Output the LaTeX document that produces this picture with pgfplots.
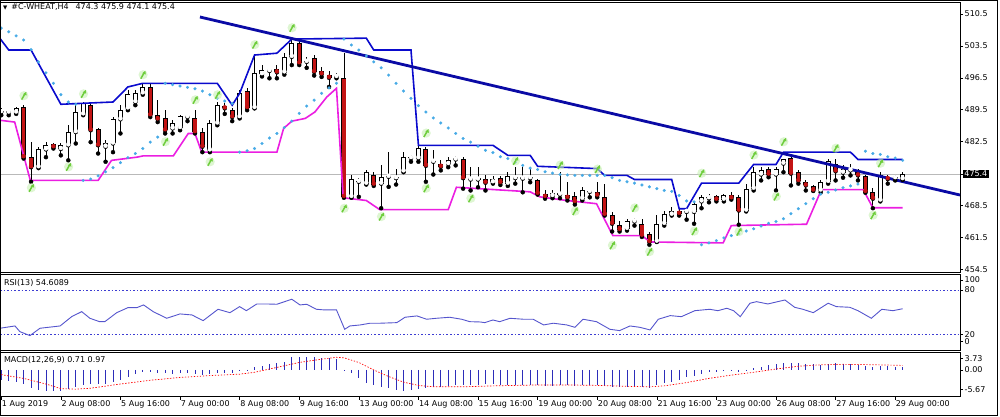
\documentclass[border=0pt]{standalone}
\usepackage{pgfplots}
\pgfplotsset{compat=1.18}
\usepackage{pgfplotstable}
\usepackage{fontspec}
\setmainfont{DejaVu Sans}

\definecolor{chanup}{RGB}{10,10,205}
\definecolor{chanlo}{RGB}{235,30,225}
\definecolor{trend}{RGB}{10,10,165}
\definecolor{sar}{RGB}{70,170,230}
\definecolor{fract}{RGB}{110,205,60}
\definecolor{fractglow}{RGB}{200,240,180}
\definecolor{bear}{RGB}{195,20,20}
\definecolor{rsic}{RGB}{85,85,205}
\definecolor{lvl}{RGB}{60,60,210}
\definecolor{histc}{RGB}{45,45,185}

\pgfdeclareplotmark{fractal}{%
  \pgfsetlinewidth{1.5pt}%
  \pgfpathmoveto{\pgfqpoint{-2.0pt}{-3.6pt}}%
  \pgfpathlineto{\pgfqpoint{1.5pt}{2.6pt}}%
  \pgfusepathqstroke
  \pgfpathmoveto{\pgfqpoint{2.6pt}{4.4pt}}%
  \pgfpathlineto{\pgfqpoint{-0.5pt}{1.8pt}}%
  \pgfpathlineto{\pgfqpoint{3.0pt}{0.6pt}}%
  \pgfpathclose
  \pgfusepathqfill
}
\pgfdeclareplotmark{fractalglow}{%
  \pgfpathcircle{\pgfqpoint{0.3pt}{0.4pt}}{4.6pt}%
  \pgfusepathqfill
}

\pgfplotstableread{
i o h l c
0 489.0 489.8 488.3 489.1
1 488.9 489.4 488.3 488.95
2 488.9 490.1 488.6 489.8
5 476.9 481.3 476.7 481.0
6 480.8 482.4 479.1 481.7
8 480.9 482.3 479.5 481.8
9 481.7 486.1 478.4 484.6
10 484.6 490.5 482.1 488.9
11 488.5 491.1 488.3 490.9
14 481.4 482.8 478.1 482.1
15 482.1 488.0 480.2 487.4
16 487.4 490.5 484.3 489.4
17 489.8 493.8 489.4 492.9
18 491.2 493.8 490.5 493.2
19 493.1 495.3 492.8 494.5
23 485.4 487.2 484.3 486.5
24 485.5 488.3 485.0 488.1
25 487.9 488.1 487.0 487.9
28 480.6 487.2 480.2 486.5
29 486.5 491.2 486.1 490.5
32 487.9 493.8 487.6 493.1
34 489.9 501.5 489.8 497.5
35 497.3 499.4 496.8 498.2
36 498.0 498.2 496.4 498.0
38 497.7 502.0 497.2 501.1
39 501.1 505.0 499.3 504.1
41 500.0 501.1 498.7 500.0
45 496.7 497.5 496.4 496.7
47 470.4 475.1 470.2 474.4
48 473.7 474.6 470.4 473.7
49 473.3 476.2 473.1 475.9
51 473.3 477.3 467.9 474.8
52 474.8 480.3 472.6 474.8
53 474.5 476.6 473.1 474.5
54 476.0 480.2 475.8 479.2
55 478.9 479.5 478.1 478.9
56 478.9 481.7 478.1 481.1
58 478.1 480.6 475.3 478.1
60 477.6 479.2 476.9 478.4
61 478.6 479.4 477.3 478.6
63 474.2 477.0 471.8 474.2
64 474.2 477.0 472.5 474.2
66 473.6 474.9 473.3 474.4
68 473.3 475.8 472.8 474.9
69 474.5 477.0 473.3 474.5
70 474.4 477.0 471.4 474.4
71 474.5 477.0 473.6 474.5
74 470.6 471.8 470.1 471.3
75 470.9 475.8 470.1 470.9
78 470.0 472.5 469.6 471.8
79 471.5 471.6 470.3 471.5
84 463.4 465.6 463.0 465.0
85 465.0 465.7 464.1 465.0
88 460.6 466.5 460.5 464.5
89 464.5 467.4 464.1 466.7
90 466.5 468.1 466.3 467.4
92 467.1 467.8 465.4 467.1
93 467.1 469.2 464.5 468.9
94 469.4 470.7 467.9 470.3
95 470.1 471.1 469.2 470.1
97 469.8 471.0 469.4 470.7
100 467.4 473.3 467.2 472.2
101 472.2 477.0 471.8 475.9
102 475.3 477.0 474.0 476.2
104 475.3 477.0 471.8 476.4
105 477.7 478.8 475.8 478.6
110 471.8 474.0 471.4 473.7
111 473.7 478.8 473.3 478.2
113 475.7 477.3 474.6 476.6
114 476.2 477.5 475.1 476.2
118 469.6 475.8 469.4 475.1
120 474.5 475.1 474.0 474.5
121 474.3 475.9 474.1 475.4
}\bull

\pgfplotstableread{
i o h l c
3 490.1 490.6 478.8 479.1
4 479.1 482.4 473.7 476.9
7 481.9 482.2 481.0 481.3
12 490.5 490.7 482.4 485.0
13 485.2 485.4 479.9 481.7
20 494.5 495.3 487.9 488.3
21 488.3 491.6 486.8 487.4
22 487.6 489.4 484.3 485.0
26 487.7 489.4 484.3 484.6
27 484.6 485.4 480.2 481.4
30 490.4 490.9 488.6 489.8
31 489.5 489.8 487.0 487.9
33 493.6 494.2 489.4 489.9
37 498.4 499.3 496.4 497.7
40 504.1 504.6 499.3 499.7
42 500.9 501.6 497.0 497.8
43 498.0 498.9 496.7 497.3
44 497.2 498.0 494.5 496.5
46 496.5 501.9 470.2 470.4
50 475.3 475.9 472.8 473.1
57 481.0 481.3 473.7 477.2
59 477.7 478.4 476.2 477.0
62 478.6 479.2 472.2 474.5
65 474.4 475.1 471.8 473.5
67 474.5 475.0 473.0 473.5
72 474.0 474.4 470.9 471.1
73 471.1 471.8 470.0 470.4
76 470.9 473.6 469.6 470.2
77 470.5 471.4 468.7 469.3
80 471.5 473.6 470.3 470.7
81 470.4 473.3 466.3 466.5
82 466.5 467.1 462.8 464.5
83 464.3 465.2 462.8 463.2
86 464.5 465.6 461.6 461.9
87 462.3 462.7 459.9 460.5
91 467.2 467.8 466.3 466.7
96 470.5 470.9 469.4 469.8
98 470.9 471.4 469.8 470.1
99 470.4 470.7 464.3 467.4
103 476.5 477.0 474.7 475.3
106 478.9 479.2 472.9 475.5
107 475.9 476.2 473.3 473.9
108 473.7 474.0 471.8 472.9
109 472.8 473.1 471.7 471.8
112 477.5 478.7 474.0 476.0
115 475.9 476.6 474.0 475.1
116 474.9 475.3 471.3 471.5
117 471.5 472.3 467.9 470.0
119 474.8 475.3 473.3 474.3
}\bear

\pgfplotstableread{
i v
0 507.4
1 506.6
2 505.7
3 504.8
4 502.7
5 500.0
6 497.6
7 495.3
8 492.8
9 491.2
10 490.7
11 474.0
12 474.3
13 475.0
14 475.9
15 476.8
16 477.9
17 479.0
18 479.9
19 481.0
20 482.4
21 483.5
22 495.3
23 495.0
24 494.7
25 494.4
26 494.1
27 493.6
28 492.8
29 492.0
30 491.4
31 490.9
32 480.2
33 480.5
34 481.0
35 482.1
36 483.3
37 484.3
38 485.6
39 487.0
40 488.7
41 490.3
42 491.6
43 493.1
44 494.3
45 495.3
46 505.0
47 503.7
48 502.6
49 501.3
50 500.0
51 498.7
52 497.1
53 495.3
54 493.6
55 492.0
56 490.4
57 489.0
58 487.7
59 486.6
60 485.5
61 484.3
62 483.2
63 482.4
64 481.5
65 480.6
66 480.1
67 479.2
68 478.8
69 478.0
70 477.3
71 476.7
72 476.4
73 475.9
74 475.6
75 475.3
76 475.2
77 475.1
78 475.1
79 475.1
80 475.1
81 475.1
82 474.6
83 474.0
84 473.7
85 473.4
86 473.0
87 472.6
88 472.2
89 471.8
90 471.6
91 470.7
92 469.5
93 469.3
94 459.9
95 460.3
96 460.8
97 461.4
98 461.9
99 462.3
100 462.9
101 463.4
102 464.0
103 464.6
104 465.0
105 465.6
106 466.7
107 467.8
108 468.9
109 470.0
110 471.0
111 471.4
112 471.9
113 472.4
114 472.8
115 473.2
116 480.4
117 479.9
118 479.7
119 479.2
120 478.9
121 478.4
}\sartab

\pgfplotstableread{
i m
0 -2.1
1 -2.3
2 -2.6
3 -3.1
4 -3.8
5 -4.3
6 -4.6
7 -4.6
8 -4.4
9 -4.1
10 -3.6
11 -3.2
12 -3.1
13 -3.1
14 -3.0
15 -2.6
16 -2.1
17 -1.4
18 -0.85
19 -0.35
20 -0.35
21 -0.6
22 -0.7
23 -0.85
24 -0.7
25 -0.7
26 -0.85
27 -1.1
28 -0.9
29 -0.6
30 -0.6
31 -0.6
32 -0.15
33 0.05
34 0.6
35 0.85
36 1.2
37 1.4
38 1.8
39 2.7
40 2.85
41 2.7
42 2.7
43 2.6
44 2.5
45 2.3
46 -0.2
47 -0.7
48 -1.8
49 -2.8
50 -3.2
51 -3.6
52 -3.9
53 -4.3
54 -4.4
55 -4.3
56 -4.1
57 -3.9
58 -3.7
59 -3.6
60 -3.4
61 -3.3
62 -3.2
63 -3.2
64 -3.2
65 -3.1
66 -3.1
67 -3.2
68 -3.2
69 -3.2
70 -3.2
71 -3.2
72 -3.3
73 -3.4
74 -3.4
75 -3.3
76 -3.3
77 -3.4
78 -3.3
79 -3.2
80 -3.2
81 -3.5
82 -3.6
83 -3.7
84 -3.6
85 -3.6
86 -3.7
87 -3.8
88 -3.3
89 -2.8
90 -2.5
91 -2.1
92 -1.6
93 -1.2
94 -0.8
95 -0.5
96 -0.35
97 -0.25
98 -0.2
99 -0.4
100 0.05
101 0.4
102 0.7
103 1.0
104 1.3
105 1.5
106 1.5
107 1.4
108 1.3
109 1.2
110 1.1
111 1.3
112 1.4
113 1.3
114 1.2
115 1.1
116 0.9
117 0.7
118 0.75
119 0.75
120 0.7
121 0.71
}\macdtab

\pgfplotsset{every axis/.append style={
  tick label style={font=\fontsize{8}{9.6}\selectfont},
  scale only axis, width=960pt,
  xmin=-0.17, xmax=128.7,
  axis line style={black, line width=0.8pt},
  tick style={black, line width=0.6pt},
  tick align=outside, major tick length=3pt,
  ytick pos=right, yticklabel pos=right,
  yticklabel style={inner sep=1.5pt},
}}

\begin{document}
\begin{tikzpicture}[font=\fontsize{8}{9.6}\selectfont]
\useasboundingbox (0,0) rectangle (1000pt,417pt);

% ---------------- main price panel ----------------
\begin{axis}[
  at={(0pt,415pt)}, anchor=north west, height=270pt,
  ymin=453.92, ymax=513.13,
  xtick=\empty,
  ytick={454.5,461.5,468.5,482.5,489.5,496.5,503.5,510.5},
  yticklabels={454.5,461.5,468.5,482.5,489.5,496.5,503.5,510.5},
  extra y ticks={475.4}, extra y tick labels={475.4},
  extra y tick style={grid=major, major grid style={draw=gray!55, line width=0.5pt},
    yticklabel style={fill=black, text=white, inner sep=1.2pt}},
]
% wicks
\addplot[only marks, mark=none, black, error bars/.cd, y dir=plus, y explicit, error mark=none,
  error bar style={draw=black, line width=0.8pt}]
  table[x=i, y=l, y error expr=\thisrow{h}-\thisrow{l}] {\bull};
\addplot[only marks, mark=none, black, error bars/.cd, y dir=plus, y explicit, error mark=none,
  error bar style={draw=black, line width=0.8pt}]
  table[x=i, y=l, y error expr=\thisrow{h}-\thisrow{l}] {\bear};
% body outlines
\addplot[only marks, mark=none, black, error bars/.cd, y dir=plus, y explicit, error mark=none,
  error bar style={draw=black, line width=5pt}]
  table[x=i, y expr={min(\thisrow{o},\thisrow{c})}, y error expr={max(abs(\thisrow{c}-\thisrow{o}),0.25)}] {\bull};
\addplot[only marks, mark=none, black, error bars/.cd, y dir=plus, y explicit, error mark=none,
  error bar style={draw=black, line width=5pt}]
  table[x=i, y expr={min(\thisrow{o},\thisrow{c})}, y error expr={max(abs(\thisrow{c}-\thisrow{o}),0.25)}] {\bear};
% body fills
\addplot[only marks, mark=none, white, error bars/.cd, y dir=plus, y explicit, error mark=none,
  error bar style={draw=white, line width=3.2pt}]
  table[x=i, y expr={min(\thisrow{o},\thisrow{c})+0.22}, y error expr={max(abs(\thisrow{c}-\thisrow{o})-0.44,0)}] {\bull};
\addplot[only marks, mark=none, bear, error bars/.cd, y dir=plus, y explicit, error mark=none,
  error bar style={draw=bear, line width=3.2pt}]
  table[x=i, y expr={min(\thisrow{o},\thisrow{c})+0.22}, y error expr={max(abs(\thisrow{c}-\thisrow{o})-0.44,0)}] {\bear};

% price channel
\addplot[chanup, line width=1.6pt] coordinates {
(-0.2,505.2) (1,502.6) (4,502.6) (8,490.7) (15,491.2) (17,494.5) (19,495.3) (29,495.3)
(31,490.5) (32,493.1) (34,501.5) (37,501.9) (39,505.0) (49,505.2) (50,502.6) (55,502.6)
(56,481.7) (66,481.7) (68,479.5) (71,479.5) (72,477.1) (80,476.6) (81,475.1) (84,475.1)
(85,474.2) (90,474.2) (91,467.8) (92,467.8) (94,473.4) (99,473.4) (101,477.5) (104,477.5)
(105,480.2) (114,480.2) (115,478.6) (121,478.6)};
\addplot[chanlo, line width=1.6pt] coordinates {
(-0.2,487.2) (1.8,486.8) (3.9,474.0) (13,474.0) (14.8,478.4) (18.2,479.1) (19.1,479.4)
(23.1,479.4) (25.1,484.3) (26,484.3) (26.9,480.2) (37,480.2) (37.9,485.4) (39,487.0)
(40.8,487.6) (42.1,489.0) (43.7,492.3) (45,494.2) (45.9,470.2) (49,469.6) (50.8,467.6)
(60,467.6) (61.1,472.5) (71,471.5) (72.3,470.4) (75.9,469.6) (79.9,468.9) (82.1,461.9)
(86,461.9) (87.1,460.5) (96.9,460.3) (98,464.1) (108.1,464.4) (110.1,472.0) (115.7,472.0)
(117,468.0) (121,468.0)};

% parabolic SAR
\addplot[sar, only marks, mark=*, mark size=1.45pt, mark options={fill=sar, draw=sar, line width=0.2pt}]
  table[x=i, y=v] {\sartab};

% fractals (glow, then arrow)
\addplot[fractglow, only marks, mark=fractalglow, mark options={fill=fractglow, draw=none}, opacity=0.6] coordinates {
(3,492.5) (11,492.9) (19,497.1) (26,491.6) (29,492.7) (34,503.7) (39,507.4) (57,484.3)
(69,478.2) (75,477.3) (80,476.4) (85,467.9) (94,475.5) (101,479.5) (105,482.4) (112,481.0)
(118,477.7)};
\addplot[fractglow, only marks, mark=fractalglow, mark options={fill=fractglow, draw=none}, opacity=0.6] coordinates {
(4,472.3) (9,476.9) (22,482.4) (28,478.0) (46,467.8) (51,466.0) (57,472.2) (63,470.0)
(77,467.2) (82,459.7) (87,458.3) (93,462.8) (99,462.7) (104,470.4) (117,466.3)};
\addplot[fract, only marks, mark=fractal, mark options={draw=fract, fill=fract}] coordinates {
(3,492.5) (11,492.9) (19,497.1) (26,491.6) (29,492.7) (34,503.7) (39,507.4) (57,484.3)
(69,478.2) (75,477.3) (80,476.4) (85,467.9) (94,475.5) (101,479.5) (105,482.4) (112,481.0)
(118,477.7)};
\addplot[fract, only marks, mark=fractal, mark options={draw=fract, fill=fract}] coordinates {
(4,472.3) (9,476.9) (22,482.4) (28,478.0) (46,467.8) (51,466.0) (57,472.2) (63,470.0)
(77,467.2) (82,459.7) (87,458.3) (93,462.8) (99,462.7) (104,470.4) (117,466.3)};

% trend line
\addplot[trend, line width=2.8pt] coordinates {(26.67,509.84) (128.7,470.8)};
\end{axis}

\node[anchor=west, inner sep=0pt] at (3pt,409.5pt)
  {{\fontsize{5.5}{6}\selectfont ▼}\hspace{4pt}\#C-WHEAT,H4\hspace{7pt}474.3 475.9 474.1 475.4};

% ---------------- RSI panel ----------------
\begin{axis}[
  at={(0pt,143pt)}, anchor=north west, height=76pt,
  ymin=-1.27, ymax=101.7,
  xtick=\empty,
  ytick={93.6,80,20,10}, yticklabels={100,80,20,0},
]
\addplot[lvl, line width=0.6pt, dash pattern=on 1.6pt off 2pt] coordinates {(-0.17,80) (128.7,80)};
\addplot[lvl, line width=0.6pt, dash pattern=on 1.6pt off 2pt] coordinates {(-0.17,20) (128.7,20)};
\addplot[rsic, line width=0.9pt] coordinates {
(-0.17,28.2) (1.84,31.3) (2.5,23.6) (3.85,18.2) (5.2,28.2) (7.9,31.3) (9.45,43.9) (10.8,50.7)
(11.9,41.7) (13.2,37.1) (13.9,37.1) (15.5,49.3) (17.0,56.1) (18.2,56.1) (19.1,59.8) (20.4,50.7)
(22.2,41.7) (24.0,47.6) (25.6,46.2) (27.1,38.5) (29.1,53.9) (30.7,49.3) (32.0,57.5) (32.9,52.0)
(34.3,61.1) (35.6,61.1) (37.0,60.7) (39.0,67.5) (40.1,59.8) (41.0,60.7) (42.3,53.9) (43.4,53.0)
(45.0,53.0) (46.1,26.8) (46.8,31.3) (48.2,32.7) (49.5,35.0) (50.8,35.0) (53.1,35.8) (54.2,43.1)
(55.8,44.9) (57.1,40.4) (58.4,41.7) (60.2,43.1) (61.8,40.4) (62.9,37.1) (64.3,36.7) (64.9,35.8)
(66.0,39.4) (66.9,37.1) (68.3,41.7) (70.1,40.4) (71.4,40.4) (72.8,32.7) (74.1,35.0) (75.9,32.7)
(77.0,29.5) (78.1,40.4) (79.9,37.1) (81.7,26.8) (83.0,25.0) (84.4,31.3) (85.7,29.5) (87.1,25.9)
(88.2,40.4) (89.8,45.3) (91.3,43.9) (93.1,52.0) (95.1,53.9) (96.2,52.0) (97.4,55.3) (98.3,52.0)
(99.2,43.9) (100.5,62.1) (101.4,64.2) (102.9,61.1) (105.2,66.5) (106.5,56.6) (107.6,53.9)
(109.0,49.3) (111.0,62.1) (112.1,57.5) (113.9,56.6) (115.0,52.0) (116.8,41.7) (118.2,53.9)
(119.7,52.0) (121.0,54.6)};
\node[anchor=west, inner sep=0pt] at (rel axis cs:0.004,0.88) {RSI(13) 54.6089};
\end{axis}

% ---------------- MACD panel ----------------
\begin{axis}[
  at={(0pt,64.5pt)}, anchor=north west, height=44pt,
  ymin=-5.67, ymax=3.73,
  ytick={2.5,0,-4.12}, yticklabels={3.73,0.00,-5.67},
  xtick={0,8,...,120}, xtick pos=left,
  xticklabels={1 Aug 2019,2 Aug 08:00,5 Aug 16:00,7 Aug 00:00,8 Aug 08:00,9 Aug 16:00,13 Aug 00:00,14 Aug 08:00,15 Aug 16:00,19 Aug 00:00,20 Aug 08:00,21 Aug 16:00,23 Aug 00:00,26 Aug 08:00,27 Aug 16:00,29 Aug 00:00},
  xticklabel style={anchor=north west, inner sep=1pt, xshift=-0.5pt},
]
\addplot[ycomb, histc, line width=0.8pt] table[x=i, y=m] {\macdtab};
\addplot[red, line width=0.7pt, dash pattern=on 1.4pt off 1.6pt] coordinates {
(0,-1.0) (3,-1.8) (6,-3.0) (8,-4.0) (10,-4.1) (12,-3.9) (16,-3.0) (20,-2.2) (24,-1.6)
(28,-1.2) (32,-0.9) (34,-0.5) (36,0.2) (38,0.9) (40,1.6) (43,2.3) (45,2.7) (46,2.6)
(48,1.6) (50,0.0) (52,-1.4) (54,-2.6) (56,-3.3) (58,-3.6) (62,-3.6) (66,-3.4) (72,-3.2)
(76,-3.2) (80,-3.3) (84,-3.5) (87,-3.6) (89,-3.4) (92,-2.7) (95,-1.8) (98,-1.1) (101,-0.5)
(104,0.2) (107,0.8) (110,1.1) (113,1.2) (116,1.15) (119,1.05) (121,0.97)};
\node[anchor=west, inner sep=0pt] at (rel axis cs:0.004,0.83) {MACD(12,26,9) 0.71 0.97};
\end{axis}

\draw[black, line width=1pt] (0.5pt,1.5pt) rectangle (997pt,416.5pt);
\end{tikzpicture}
\end{document}
